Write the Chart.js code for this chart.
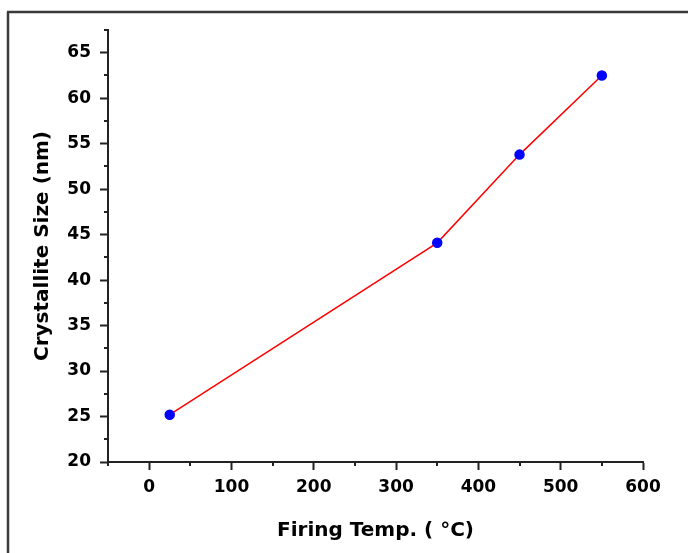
<!DOCTYPE html>
<html>
<head>
    <title>Crystallite Size vs Firing Temp.</title>
    <script src="https://cdn.jsdelivr.net/npm/chart.js"></script>
    <style>
        body {
            margin: 0;
            background-color: #fff;
            overflow: hidden;
        }
        canvas {
            display: block;
        }
    </style>
</head>
<body>

<canvas id="sizeChart" width="688" height="553"></canvas>

<script>
    // data
    const firingTemps = [25, 350, 450, 550];
    const crystalliteSizes = [25.2, 44.1, 53.8, 62.5];

    // axis ticks
    const xMajorTicks = [0, 100, 200, 300, 400, 500, 600];
    const xMinorTicks = [-50, 50, 150, 250, 350, 450, 550];
    const yMajorTicks = [20, 25, 30, 35, 40, 45, 50, 55, 60, 65];
    const yMinorTicks = [22.5, 27.5, 32.5, 37.5, 42.5, 47.5, 52.5, 57.5, 62.5, 67.5];

    const axisColor = '#222';
    const tickFont = { family: 'DejaVu Sans', size: 17, weight: 'bold' };
    const titleFont = { family: 'DejaVu Sans', size: 20, weight: 'bold' };

    // minor ticks + the outer frame
    const extras = {
        id: 'extras',
        afterDraw(chart) {
            const ctx = chart.ctx;
            const area = chart.chartArea;
            const xs = chart.scales.x;
            const ys = chart.scales.y;
            ctx.save();
            ctx.strokeStyle = axisColor;
            ctx.lineWidth = 2;
            ctx.beginPath();
            xMinorTicks.forEach(v => {
                const px = Math.round(xs.getPixelForValue(v));
                ctx.moveTo(px, area.bottom);
                ctx.lineTo(px, area.bottom + 4);
            });
            yMinorTicks.forEach(v => {
                const py = Math.round(ys.getPixelForValue(v));
                ctx.moveTo(area.left, py);
                ctx.lineTo(area.left - 4, py);
            });
            ctx.stroke();

            // frame round the figure (only left and top edges show)
            ctx.strokeStyle = '#3a3a3a';
            ctx.lineWidth = 2.5;
            ctx.beginPath();
            ctx.moveTo(8, chart.height + 5);
            ctx.lineTo(8, 12);
            ctx.moveTo(7, 12);
            ctx.lineTo(chart.width + 5, 12);
            ctx.stroke();
            ctx.restore();
        }
    };

    const ctx = document.getElementById('sizeChart').getContext('2d');
    const sizeChart = new Chart(ctx, {
        type: 'scatter',
        data: {
            datasets: [{
                data: firingTemps.map((t, i) => ({ x: t, y: crystalliteSizes[i] })),
                showLine: true,
                borderColor: '#ff0000',
                borderWidth: 1.5,
                pointBackgroundColor: '#0000ff',
                pointBorderColor: '#0000ff',
                pointRadius: 4.5,
                tension: 0
            }]
        },
        options: {
            responsive: false,
            animation: false,
            layout: {
                padding: { top: 30, right: 45, left: 0, bottom: 0 }
            },
            plugins: {
                legend: { display: false },
                tooltip: { enabled: false }
            },
            scales: {
                x: {
                    type: 'linear',
                    min: -50,
                    max: 600,
                    afterBuildTicks: scale => {
                        scale.ticks = xMajorTicks.map(v => ({ value: v }));
                    },
                    afterFit: scale => {
                        scale.height = 91;
                    },
                    grid: {
                        drawOnChartArea: false,
                        drawTicks: true,
                        tickLength: 8,
                        tickWidth: 2,
                        tickColor: axisColor
                    },
                    border: { display: true, color: axisColor, width: 2 },
                    ticks: {
                        color: '#000',
                        font: tickFont,
                        padding: 7,
                        maxRotation: 0
                    },
                    title: {
                        display: true,
                        text: 'Firing Temp. ( °C)',
                        color: '#000',
                        font: titleFont,
                        padding: { top: 0, bottom: 10 }
                    }
                },
                y: {
                    type: 'linear',
                    min: 20,
                    max: 67.5,
                    afterBuildTicks: scale => {
                        scale.ticks = yMajorTicks.map(v => ({ value: v }));
                    },
                    afterFit: scale => {
                        scale.width = 108;
                    },
                    grid: {
                        drawOnChartArea: false,
                        drawTicks: true,
                        tickLength: 8,
                        tickWidth: 2,
                        tickColor: axisColor
                    },
                    border: { display: true, color: axisColor, width: 2 },
                    ticks: {
                        color: '#000',
                        font: tickFont,
                        padding: 9
                    },
                    title: {
                        display: true,
                        text: 'Crystallite Size (nm)',
                        color: '#000',
                        font: titleFont,
                        padding: { top: 31, bottom: 0 }
                    }
                }
            }
        },
        plugins: [extras]
    });
</script>

</body>
</html>
